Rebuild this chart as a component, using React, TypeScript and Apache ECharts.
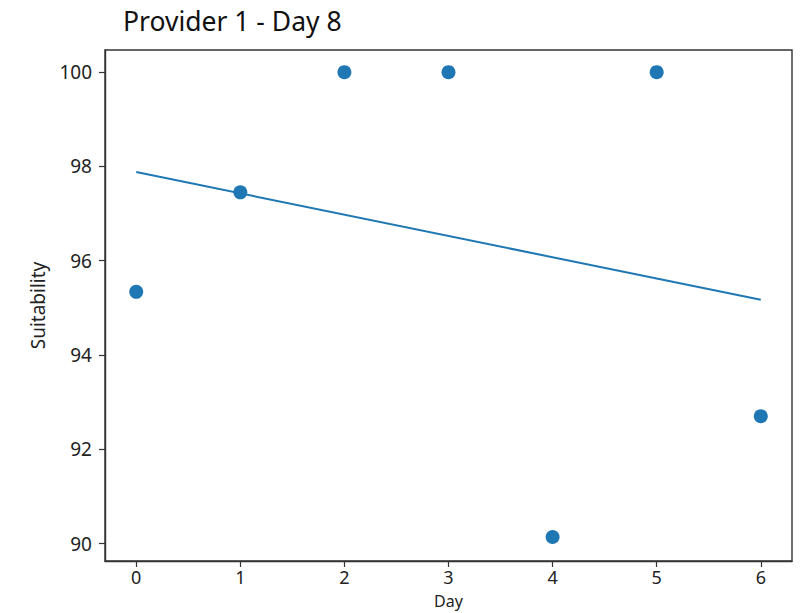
import React, { useEffect, useRef } from "react";
import * as echarts from "echarts";

const days = [0, 1, 2, 3, 4, 5, 6];
const suitability = [95.34, 97.45, 100, 100, 90.14, 100, 92.7];
const trendDays = [0, 6];
const trendValues = [97.88, 95.17];
const xTicks = [0, 1, 2, 3, 4, 5, 6];
const yTicks = [90, 92, 94, 96, 98, 100];
const titleText = "Provider 1 - Day 8";

const FONT = "'Noto Sans', 'Open Sans', sans-serif";
const BLUE = "#1f77b4";

export default function App() {
  const ref = useRef<HTMLDivElement>(null);
  useEffect(() => {
    if (!ref.current) return;
    const chart = echarts.init(ref.current, undefined, { renderer: "svg" });
    chart.setOption({
      animation: false,
      backgroundColor: "#ffffff",
      title: {
        text: titleText,
        left: 118,
        top: 2,
        textStyle: { fontFamily: FONT, fontSize: 26.5, fontWeight: "normal", color: "#111" },
      },
      grid: {
        left: 105,
        right: 10,
        top: 50,
        bottom: 52,
        show: true,
        borderColor: "#333",
        borderWidth: 1.4,
        backgroundColor: "transparent",
        outerBoundsMode: "none",
        containLabel: false,
      },
      xAxis: {
        type: "value",
        min: -0.3,
        max: 6.3,
        name: "Day",
        nameLocation: "middle",
        nameGap: 32,
        nameMoveOverlap: false,
        nameTextStyle: { fontFamily: FONT, fontSize: 16, color: "#222", lineHeight: 16, verticalAlign: "top" },
        splitLine: { show: false },
        axisLine: { show: true, onZero: false, lineStyle: { color: "#333", width: 1.4 } },
        axisTick: { show: true, length: 6, customValues: xTicks, lineStyle: { color: "#333", width: 1.2 } },
        axisLabel: { customValues: xTicks, fontFamily: FONT, fontSize: 18, lineHeight: 18, color: "#222", margin: 7 },
      },
      yAxis: {
        type: "value",
        min: 89.63,
        max: 100.47,
        name: "Suitability",
        nameLocation: "middle",
        nameGap: 58,
        nameMoveOverlap: false,
        nameTextStyle: { fontFamily: FONT, fontSize: 19, color: "#222" },
        splitLine: { show: false },
        axisLine: { show: true, onZero: false, lineStyle: { color: "#333", width: 1.4 } },
        axisTick: { show: true, length: 6, customValues: yTicks, lineStyle: { color: "#333", width: 1.2 } },
        axisLabel: { customValues: yTicks, fontFamily: FONT, fontSize: 19, color: "#222", margin: 13 },
      },
      series: [
        {
          type: "scatter",
          data: days.map((d, i) => [d, suitability[i]]),
          symbolSize: 14,
          itemStyle: { color: BLUE, opacity: 1 },
          z: 3,
        },
        {
          type: "line",
          data: trendDays.map((d, i) => [d, trendValues[i]]),
          showSymbol: false,
          symbol: "none",
          lineStyle: { color: BLUE, width: 2 },
          z: 2,
        },
      ],
    });
    return () => chart.dispose();
  }, []);
  return (
    <div
      ref={ref}
      style={{ position: "fixed", left: 0, top: 0, width: 802, height: 613 }}
    />
  );
}
